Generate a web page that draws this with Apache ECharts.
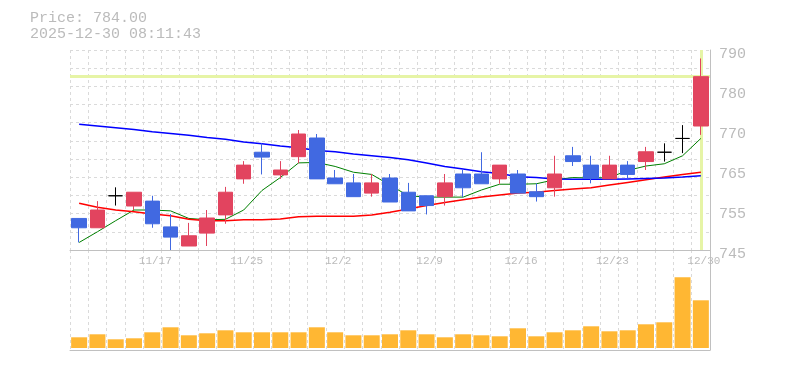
<!DOCTYPE html>
<html><head><meta charset="utf-8">
<script src="https://cdn.jsdelivr.net/npm/echarts@6/dist/echarts.min.js"></script>
<style>html,body{margin:0;padding:0;background:#fff}#c{width:785px;height:370px}</style>
</head><body><div id="c"></div>
<script>
const dates = ['11/11','11/12','11/13','11/14','11/17','11/18','11/19','11/20','11/21','11/25',
  '11/26','11/27','11/28','12/1','12/2','12/3','12/4','12/5','12/8','12/9',
  '12/10','12/11','12/12','12/15','12/16','12/17','12/18','12/19','12/22','12/23',
  '12/24','12/25','12/26','12/29','12/30'];
const openP  = [752.1,750.0,757.2,754.9,756.0,750.2,745.9,748.8,752.9,761.0,767.0,761.9,766.0,770.2,761.2,760.1,757.8,761.2,758.0,757.2,757.0,762.1,762.1,761.0,762.1,758.1,759.0,766.2,764.1,761.0,764.1,764.9,767.0,770.1,772.9];
const closeP = [750.0,754.0,757.2,758.0,750.9,747.9,748.2,752.2,758.0,764.1,765.9,763.0,771.1,761.0,759.9,757.0,760.1,755.8,753.8,755.0,760.1,759.0,759.9,764.1,757.8,757.0,762.1,764.9,761.1,764.1,762.0,767.1,767.0,770.1,784.0];
const lowP   = [746.7,750.0,755.0,754.0,750.0,745.0,745.9,745.9,750.9,759.9,762.0,761.0,764.5,761.0,759.9,757.0,757.0,755.8,753.8,753.0,755.0,756.9,759.9,759.9,757.8,755.9,757.0,763.9,760.0,761.0,761.1,763.0,764.9,766.8,770.9];
const highP  = [752.1,756.0,759.1,758.0,757.2,753.1,751.1,754.0,759.2,765.0,769.0,765.0,772.0,771.1,763.0,762.1,762.1,762.1,760.1,757.2,762.1,763.0,767.0,764.1,763.0,760.0,766.2,768.2,766.2,766.2,765.0,768.2,769.0,773.1,788.1];
const maShort = [746.7,749.1,751.6,754.0,754.0,753.8,752.1,751.8,751.9,754.0,758.4,761.3,764.6,764.7,763.8,762.5,762.0,759.6,757.2,756.9,756.9,756.9,758.5,759.8,759.8,759.9,760.8,761.3,761.2,761.3,762.9,763.9,764.4,766.2,770.1];
const maMid   = [755.5,754.6,754.0,753.6,753.1,752.7,751.9,751.6,751.6,751.8,751.8,752.0,752.5,752.6,752.6,752.6,752.9,753.5,754.2,755.0,755.7,756.3,756.9,757.4,757.8,758.0,758.4,758.7,759.0,759.6,760.2,760.8,761.4,762.0,762.5];
const maLong  = [773.3,772.9,772.5,772.1,771.6,771.2,770.8,770.3,769.9,769.3,768.9,768.4,768.0,767.4,767.1,766.6,766.2,765.8,765.3,764.6,763.8,763.2,762.6,762.2,761.5,761.3,761.0,760.9,760.9,760.9,761.0,761.1,761.2,761.4,761.7];
const volume  = [107,137,87,97,157,207,127,147,177,157,157,157,157,207,157,127,127,137,177,137,107,137,127,117,197,117,157,177,217,167,177,237,257,707,477];
const xTickLabels = ['11/17','11/25','12/2','12/9','12/16','12/23','12/30'];
const yTickLabels = ['745','755','765','770','780','790'];
const lastPrice = 784;
const titleLines = ['Price: 784.00', '2025-12-30 08:11:43'];

const FONT = 'Liberation Mono';
const UP = '#e2445f', DOWN = '#4169e1', DOJI = '#000000';
const TXT = '#bbbbbb', AX = '#c0c0c0', GRIDC = '#dadada';

const candleData = dates.map((d, i) => {
  const v = [openP[i], closeP[i], lowP[i], highP[i]];
  if (openP[i] === closeP[i]) {
    return {value: v, itemStyle: {color: DOJI, color0: DOJI, borderColor: DOJI, borderColor0: DOJI, borderColorDoji: DOJI}};
  }
  return v;
});

const chart = echarts.init(document.getElementById('c'), null, {renderer: 'canvas'});
chart.setOption({
  animation: false,
  backgroundColor: '#ffffff',
  title: {
    text: titleLines.join('\n'), left: 25, top: 5,
    textStyle: {fontFamily: FONT, fontSize: 15, fontWeight: 'normal', color: TXT, lineHeight: 16}
  },
  grid: [
    {left: 70, right: 75, top: 50, height: 200},
    {left: 70, right: 75, top: 250, height: 100}
  ],
  xAxis: [
    {type: 'category', gridIndex: 0, data: dates, boundaryGap: true,
     axisLine: {onZero: false, lineStyle: {color: AX, width: 1}},
     axisTick: {show: false, interval: 0},
     axisLabel: {interval: (i, v) => xTickLabels.includes(v), color: TXT, fontFamily: FONT, fontSize: 11, margin: 6, padding: [0, 0, 0, 6]},
     splitLine: {show: true, interval: 0, lineStyle: {color: GRIDC, type: [3, 3]}}},
    {type: 'category', gridIndex: 1, data: dates, boundaryGap: true,
     axisLine: {onZero: false, lineStyle: {color: AX, width: 1}},
     axisTick: {show: false, interval: 0}, axisLabel: {show: false},
     splitLine: {show: true, interval: 0, lineStyle: {color: GRIDC, type: [3, 3]}}}
  ],
  yAxis: [
    {type: 'value', gridIndex: 0, min: 745, max: 790, show: false},
    {type: 'value', gridIndex: 0, min: 0, max: 5, interval: 1, position: 'right',
     axisLine: {show: true, onZero: false, lineStyle: {color: AX, width: 1}},
     axisTick: {show: false},
     axisLabel: {formatter: v => yTickLabels[Math.round(v)], color: TXT, fontFamily: FONT, fontSize: 15, margin: 9, verticalAlign: 'top', lineHeight: 8},
     splitLine: {show: false}},
    {type: 'value', gridIndex: 0, min: 0, max: 11, interval: 1, position: 'right',
     axisLine: {show: false}, axisTick: {show: false}, axisLabel: {show: false},
     splitLine: {show: true, lineStyle: {color: GRIDC, type: [3, 3]}}},
    {type: 'value', gridIndex: 1, min: -20, max: 980, position: 'right',
     axisLine: {show: true, onZero: false, lineStyle: {color: AX, width: 1}},
     axisTick: {show: false}, axisLabel: {show: false}, splitLine: {show: false}}
  ],
  series: [
    {type: 'candlestick', xAxisIndex: 0, yAxisIndex: 0, data: candleData, barWidth: 15, z: 3,
     itemStyle: {color: UP, color0: DOWN, borderColor: UP, borderColor0: DOWN, borderColorDoji: DOJI, borderWidth: 1},
     markLine: {silent: true, symbol: 'none', z: 1, label: {show: false},
       lineStyle: {color: '#e6f4a6', width: 3, type: 'solid'},
       data: [{yAxis: lastPrice}, {xAxis: dates[dates.length - 1]}]}},
    {type: 'line', xAxisIndex: 0, yAxisIndex: 0, data: maShort, symbol: 'none', z: 2,
     lineStyle: {color: '#008000', width: 1}},
    {type: 'line', xAxisIndex: 0, yAxisIndex: 0, data: maMid, symbol: 'none', z: 2,
     lineStyle: {color: '#ff0000', width: 1.5}},
    {type: 'line', xAxisIndex: 0, yAxisIndex: 0, data: maLong, symbol: 'none', z: 2,
     lineStyle: {color: '#0000ff', width: 1.5}},
    {type: 'bar', xAxisIndex: 1, yAxisIndex: 3, data: volume, barWidth: 16,
     itemStyle: {color: '#ffb733'}}
  ]
});
</script></body></html>
